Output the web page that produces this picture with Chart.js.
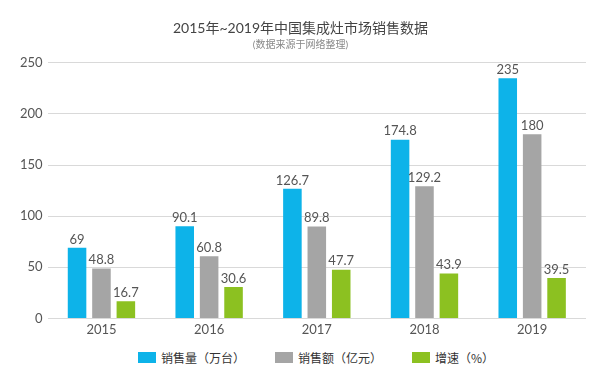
<!DOCTYPE html>
<html>
<head>
<meta charset="utf-8">
<script src="https://cdn.jsdelivr.net/npm/chart.js@4"></script>
<style>
  html, body { margin: 0; padding: 0; background: #fff; }
  #wrap { position: relative; width: 600px; height: 377px; }
  #box { width: 600px; height: 342px; }
  #legend {
    position: absolute; left: 138px; top: 349px;
    display: flex; font: 12px 'Noto Sans CJK SC', sans-serif; color: #333;
  }
  #legend .item { width: 137px; display: flex; align-items: center; }
  #legend .sw { width: 18px; height: 11px; margin-right: 5px; }
</style>
</head>
<body>
<div id="wrap">
  <div id="box"><canvas id="chart"></canvas></div>
  <div id="legend"></div>
</div>
<script>
const years = ['2015', '2016', '2017', '2018', '2019'];
const salesVolume = [69, 90.1, 126.7, 174.8, 235];
const salesAmount = [48.8, 60.8, 89.8, 129.2, 180];
const growthRate = [16.7, 30.6, 47.7, 43.9, 39.5];
const seriesNames = ['销售量（万台）', '销售额（亿元）', '增速（%）'];
const seriesColors = ['#0db3e9', '#a5a5a5', '#8cc121'];

const FONT = "'Lato', 'Noto Sans CJK SC', sans-serif";

// labels over each bar
const barLabels = {
  id: 'barLabels',
  afterDatasetsDraw(chart) {
    const ctx = chart.ctx;
    ctx.save();
    ctx.font = '13px ' + FONT;
    ctx.fillStyle = '#555';
    ctx.textAlign = 'center';
    ctx.textBaseline = 'bottom';
    chart.data.datasets.forEach((ds, i) => {
      chart.getDatasetMeta(i).data.forEach((bar, j) => {
        ctx.fillText(String(ds.data[j]), bar.x, bar.y - 2);
      });
    });
    ctx.restore();
  }
};

const chart = new Chart(document.getElementById('chart'), {
  type: 'bar',
  data: {
    labels: years,
    datasets: [
      { label: seriesNames[0], data: salesVolume, backgroundColor: seriesColors[0] },
      { label: seriesNames[1], data: salesAmount, backgroundColor: seriesColors[1] },
      { label: seriesNames[2], data: growthRate, backgroundColor: seriesColors[2] }
    ]
  },
  options: {
    responsive: true,
    maintainAspectRatio: false,
    animation: false,
    layout: { padding: { left: 15, right: 14, top: 4, bottom: 0 } },
    datasets: {
      bar: { categoryPercentage: 0.68, barPercentage: 0.76 }
    },
    plugins: {
      title: {
        display: true,
        text: '2015年~2019年中国集成灶市场销售数据',
        color: '#444',
        font: { family: FONT, size: 14, weight: 'normal' },
        padding: { top: 16, bottom: 2 }
      },
      subtitle: {
        display: true,
        text: '(数据来源于网络整理)',
        color: '#888',
        font: { family: FONT, size: 10 },
        padding: { bottom: 12 }
      },
      legend: { display: false },
      tooltip: { enabled: false }
    },
    scales: {
      x: {
        grid: { display: false, drawTicks: false },
        border: { display: false },
        ticks: { color: '#555', font: { family: FONT, size: 13 }, padding: 4 }
      },
      y: {
        min: 0,
        max: 250,
        grid: { color: '#d9d9d9', drawTicks: false },
        border: { display: false },
        ticks: { stepSize: 50, color: '#555', font: { family: FONT, size: 13 }, padding: 5 }
      }
    }
  },
  plugins: [barLabels]
});

// legend below the chart
const legend = document.getElementById('legend');
chart.data.datasets.forEach((ds) => {
  const item = document.createElement('div');
  item.className = 'item';
  const sw = document.createElement('span');
  sw.className = 'sw';
  sw.style.background = ds.backgroundColor;
  const txt = document.createElement('span');
  txt.textContent = ds.label;
  item.appendChild(sw);
  item.appendChild(txt);
  legend.appendChild(item);
});
</script>
</body>
</html>
